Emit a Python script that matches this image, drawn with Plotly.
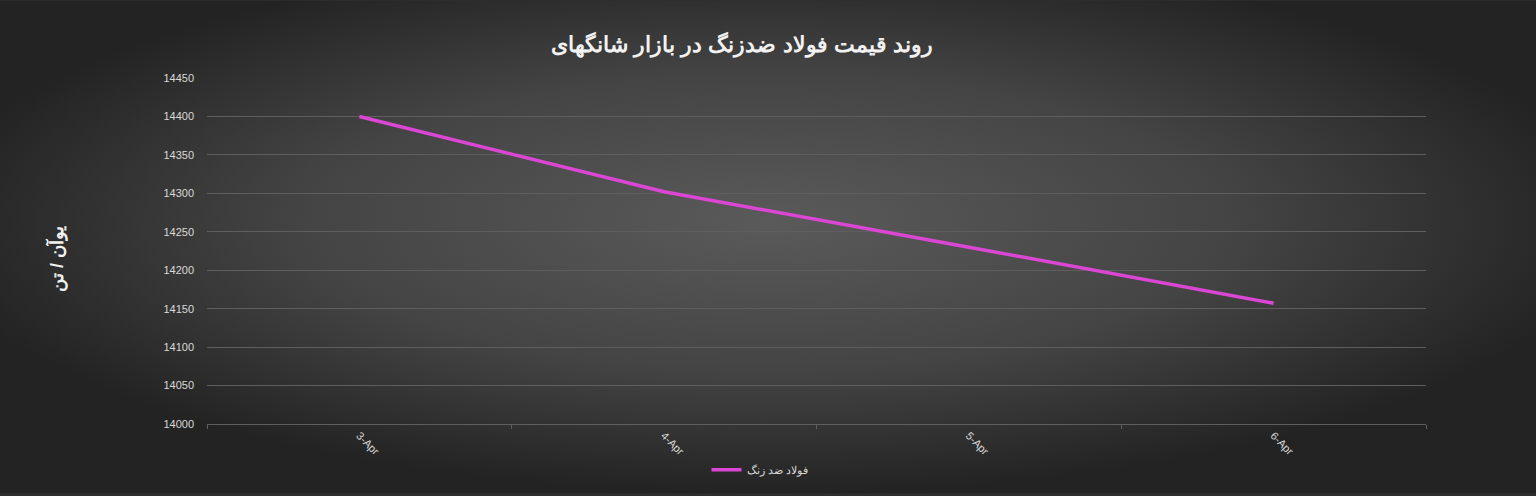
import base64
import plotly.graph_objects as go

# ---- data ----
categories = ["3-Apr", "4-Apr", "5-Apr", "6-Apr"]
prices = [14400, 14302, 14230, 14157]
series_name = "فولاد ضد زنگ"
title_text = "روند قیمت فولاد ضدزنگ در بازار شانگهای"
y_title = "یوآن / تن"
y_ticks = [14000, 14050, 14100, 14150, 14200, 14250, 14300, 14350, 14400, 14450]

W, H = 1536, 496
PL, PR, PT, PB = 207, 110, 78, 70
PW, PH = W - PL - PR, H - PT - PB

svg = f'''<svg xmlns="http://www.w3.org/2000/svg" width="{W}" height="{H}" viewBox="0 0 {W} {H}" preserveAspectRatio="none">
<defs><radialGradient id="g" cx="0.5" cy="0.45" r="0.55" gradientUnits="objectBoundingBox">
<stop offset="0" stop-color="#5a5a5a"/><stop offset="0.55" stop-color="#444444"/><stop offset="1" stop-color="#232323"/>
</radialGradient></defs>
<rect width="{W}" height="{H}" fill="url(#g)"/></svg>'''
bg_src = "data:image/svg+xml;base64," + base64.b64encode(svg.encode("utf-8")).decode("ascii")

fig = go.Figure()
fig.add_trace(go.Scatter(
    x=categories, y=prices, mode="lines", name=series_name,
    line=dict(color="#dc46d4", width=3.5),
))

fig.update_layout(
    width=W, height=H,
    paper_bgcolor="#2e2e2e", plot_bgcolor="rgba(0,0,0,0)",
    margin=dict(l=PL, r=PR, t=PT, b=PB),
    images=[dict(source=bg_src, xref="paper", yref="paper", x=-PL/PW, y=1 + PT/PH,
                 sizex=W/PW, sizey=H/PH, xanchor="left", yanchor="top",
                 sizing="stretch", layer="below")],
    title=dict(text=f"<b>{title_text}</b>", x=742/W, xanchor="center", y=1-44/H, yanchor="middle",
               font=dict(family="Liberation Sans, Arial", size=22, color="#f2f2f2")),
    font=dict(family="Liberation Sans, Arial", color="#d9d9d9"),
    showlegend=True,
    legend=dict(orientation="h", x=(760-PL)/PW, xanchor="center", y=-(472-426)/PH, yanchor="middle",
                font=dict(size=11, color="#d9d9d9"), bgcolor="rgba(0,0,0,0)"),
    xaxis=dict(
        type="category", tickangle=45, showgrid=False,
        showline=True, linecolor="#5e5e5e", linewidth=1,
        ticks="outside", tickson="boundaries", ticklen=4, tickcolor="#5e5e5e",
        tickfont=dict(size=11, color="#d9d9d9"),
        range=[-0.5, 3.5],
    ),
    yaxis=dict(
        range=[14000, 14450], tickvals=y_ticks, tickformat="d",
        showgrid=True, gridcolor="#5e5e5e", gridwidth=1,
        zeroline=False, showline=False, ticks="", ticklabelstandoff=12,
        tickfont=dict(size=11, color="#d9d9d9"),
    ),
)

fig.add_annotation(text=f"<b>{y_title}</b>", xref="paper", yref="paper",
                   x=-(PL-57)/PW, y=(426-260)/PH, showarrow=False, textangle=-90,
                   font=dict(size=18, color="#f2f2f2", family="Liberation Sans, Arial"),
                   xanchor="center", yanchor="middle")

fig.write_html("out.html", config={"displayModeBar": False},
               post_script="document.body.style.margin='0';document.body.style.background='#2e2e2e';")
